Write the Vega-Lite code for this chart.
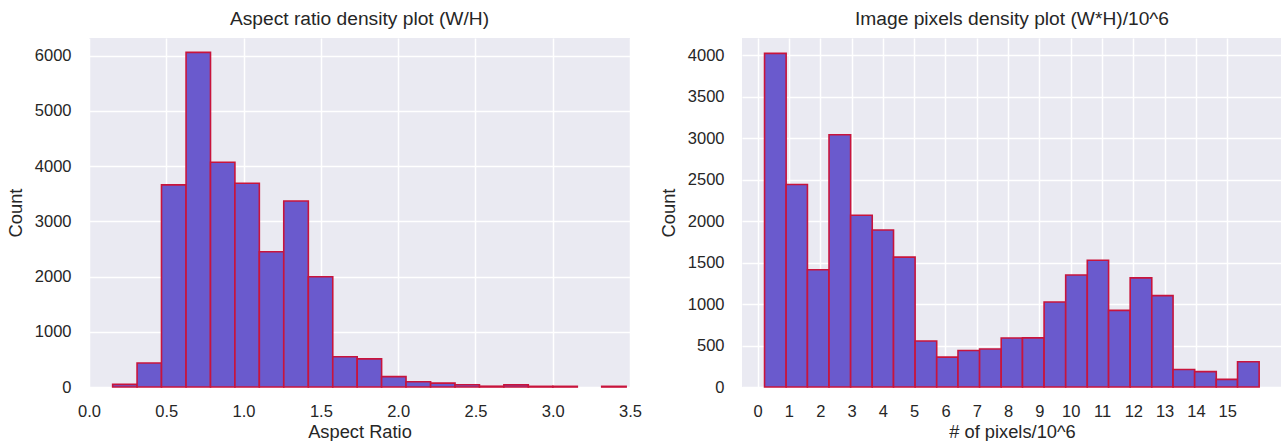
{
  "$schema": "https://vega.github.io/schema/vega-lite/v6.json",
  "padding": {"left": 6, "top": 10, "right": 0, "bottom": 0},
  "background": "white",
  "config": {
    "font": "Liberation Sans",
    "view": {"fill": "#eaeaf2", "stroke": null},
    "axis": {
      "domain": false,
      "ticks": false,
      "tickSize": 0,
      "labelFlush": false,
      "gridColor": "white",
      "gridWidth": 1.5,
      "labelFontSize": 16.5,
      "titleFontSize": 18.3,
      "labelColor": "#262626",
      "titleColor": "#262626",
      "titleFontWeight": "normal",
      "labelFont": "Liberation Sans",
      "titleFont": "Liberation Sans"
    },
    "axisX": {"labelPadding": 16, "titlePadding": 4},
    "axisY": {"labelPadding": 18, "titlePadding": 9},
    "title": {"fontSize": 19.2, "fontWeight": "normal", "color": "#262626", "offset": 8.5, "font": "Liberation Sans"},
    "concat": {"spacing": 112}
  },
  "bounds": "flush",
  "datasets": {
    "aspect": [
      {"start": 0.153, "end": 0.311, "count": 48},
      {"start": 0.311, "end": 0.469, "count": 435},
      {"start": 0.469, "end": 0.628, "count": 3660},
      {"start": 0.628, "end": 0.786, "count": 6060},
      {"start": 0.786, "end": 0.944, "count": 4071},
      {"start": 0.944, "end": 1.102, "count": 3690},
      {"start": 1.102, "end": 1.260, "count": 2450},
      {"start": 1.260, "end": 1.419, "count": 3370},
      {"start": 1.419, "end": 1.577, "count": 1996},
      {"start": 1.577, "end": 1.735, "count": 547},
      {"start": 1.735, "end": 1.893, "count": 510},
      {"start": 1.893, "end": 2.051, "count": 188},
      {"start": 2.051, "end": 2.210, "count": 95},
      {"start": 2.210, "end": 2.368, "count": 70},
      {"start": 2.368, "end": 2.526, "count": 40},
      {"start": 2.526, "end": 2.684, "count": 14},
      {"start": 2.684, "end": 2.842, "count": 38},
      {"start": 2.842, "end": 3.001, "count": 12},
      {"start": 3.001, "end": 3.159, "count": 12},
      {"start": 3.317, "end": 3.475, "count": 12}
    ],
    "pixels": [
      {"start": 0.22, "end": 0.91, "count": 4020},
      {"start": 0.91, "end": 1.59, "count": 2440},
      {"start": 1.59, "end": 2.28, "count": 1412},
      {"start": 2.28, "end": 2.97, "count": 3040},
      {"start": 2.97, "end": 3.66, "count": 2070},
      {"start": 3.66, "end": 4.34, "count": 1892},
      {"start": 4.34, "end": 5.03, "count": 1565},
      {"start": 5.03, "end": 5.72, "count": 555},
      {"start": 5.72, "end": 6.40, "count": 360},
      {"start": 6.40, "end": 7.09, "count": 440},
      {"start": 7.09, "end": 7.78, "count": 457},
      {"start": 7.78, "end": 8.46, "count": 591},
      {"start": 8.46, "end": 9.15, "count": 592},
      {"start": 9.15, "end": 9.84, "count": 1025},
      {"start": 9.84, "end": 10.53, "count": 1349},
      {"start": 10.53, "end": 11.21, "count": 1527},
      {"start": 11.21, "end": 11.90, "count": 923},
      {"start": 11.90, "end": 12.59, "count": 1315},
      {"start": 12.59, "end": 13.27, "count": 1101},
      {"start": 13.27, "end": 13.96, "count": 210},
      {"start": 13.96, "end": 14.65, "count": 185},
      {"start": 14.65, "end": 15.33, "count": 92},
      {"start": 15.33, "end": 16.02, "count": 304}
    ]
  },
  "hconcat": [
    {
      "width": 541,
      "height": 349,
      "title": "Aspect ratio density plot (W/H)",
      "data": {"name": "aspect"},
      "mark": {"type": "rect", "fill": "#6a5acd", "stroke": "#c8143c", "strokeWidth": 1.6},
      "encoding": {
        "x": {"field": "start", "type": "quantitative", "scale": {"domain": [0, 3.5], "nice": false, "zero": false},
              "axis": {"title": "Aspect Ratio", "values": [0, 0.5, 1, 1.5, 2, 2.5, 3, 3.5], "format": ".1f"}},
        "x2": {"field": "end"},
        "y": {"field": "count", "type": "quantitative", "scale": {"domain": [0, 6321], "nice": false},
              "axis": {"title": "Count", "values": [0, 1000, 2000, 3000, 4000, 5000, 6000], "format": "d"}},
        "y2": {"datum": 0}
      }
    },
    {
      "width": 540,
      "height": 349,
      "title": "Image pixels density plot (W*H)/10^6",
      "data": {"name": "pixels"},
      "mark": {"type": "rect", "fill": "#6a5acd", "stroke": "#c8143c", "strokeWidth": 1.6},
      "encoding": {
        "x": {"field": "start", "type": "quantitative", "scale": {"domain": [-0.5, 16.75], "nice": false, "zero": false},
              "axis": {"title": "# of pixels/10^6", "values": [0,1,2,3,4,5,6,7,8,9,10,11,12,13,14,15], "format": "d"}},
        "x2": {"field": "end"},
        "y": {"field": "count", "type": "quantitative", "scale": {"domain": [0, 4205], "nice": false},
              "axis": {"title": "Count", "values": [0, 500, 1000, 1500, 2000, 2500, 3000, 3500, 4000], "format": "d"}},
        "y2": {"datum": 0}
      }
    }
  ]
}
